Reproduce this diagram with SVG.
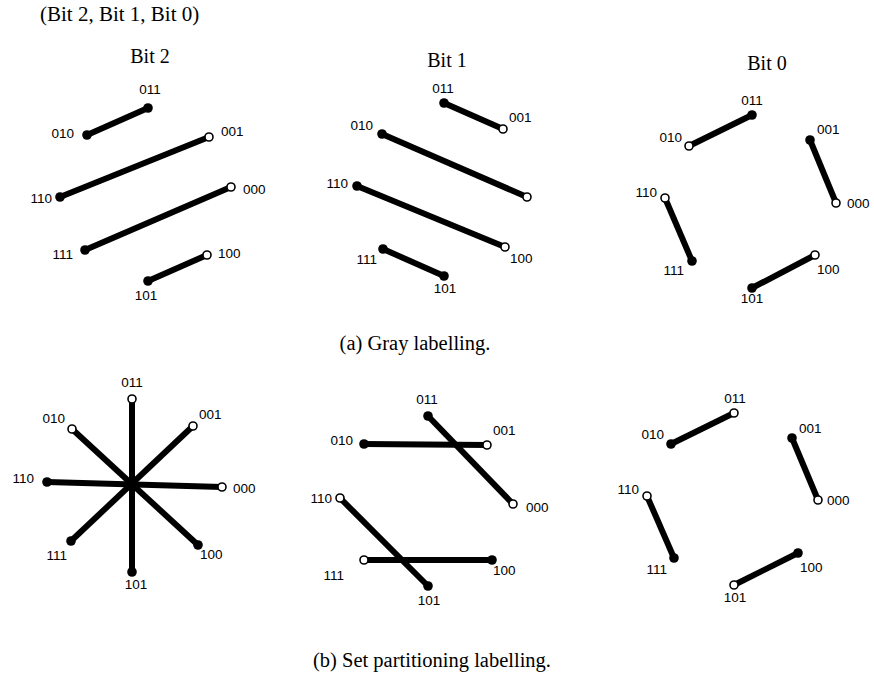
<svg xmlns="http://www.w3.org/2000/svg" width="874" height="676" viewBox="0 0 874 676">
  <style>
    .bg { fill: #ffffff; }
    .serif { font-family: "Liberation Serif", "Times New Roman", serif; fill: #000; }
    .hdr { font-size: 21px; }
    .ttl { font-size: 20px; text-anchor: middle; }
    .cap { font-size: 20.5px; text-anchor: middle; }
    .lbl { font-family: "Liberation Sans", Arial, sans-serif; font-size: 13.5px; fill: #000; }
    .m { text-anchor: middle; }
    .s { text-anchor: start; }
    .en { text-anchor: end; }
    .edge { stroke: #000; stroke-width: 6; stroke-linecap: butt; fill: none; }
    .f { fill: #000; }
    .o { fill: #fff; stroke: #000; stroke-width: 1.6; }
  </style>
  <rect class="bg" x="0" y="0" width="874" height="676"/>

  <text class="serif hdr" x="40" y="21">(Bit 2, Bit 1, Bit 0)</text>
  <text class="serif ttl" x="150" y="63">Bit 2</text>
  <text class="serif ttl" x="447" y="67">Bit 1</text>
  <text class="serif ttl" x="767" y="70">Bit 0</text>
  <text class="serif cap" x="415" y="350">(a) Gray labelling.</text>
  <text class="serif cap" x="432" y="667">(b) Set partitioning labelling.</text>

  <!-- connectors -->
  <g id="connectors">
    <!-- Gray, bit 2 -->
    <line class="edge" x1="87" y1="135" x2="148" y2="108"/>
    <line class="edge" x1="60" y1="197" x2="209" y2="137"/>
    <line class="edge" x1="85" y1="250" x2="231" y2="187"/>
    <line class="edge" x1="148" y1="281" x2="207" y2="255"/>
    <!-- Gray, bit 1 -->
    <line class="edge" x1="444" y1="103" x2="503" y2="129"/>
    <line class="edge" x1="382" y1="134" x2="527" y2="197"/>
    <line class="edge" x1="357" y1="186" x2="505" y2="247"/>
    <line class="edge" x1="383" y1="249" x2="444" y2="276"/>
    <!-- Gray, bit 0 -->
    <line class="edge" x1="689" y1="146" x2="752" y2="115"/>
    <line class="edge" x1="810" y1="140" x2="836" y2="203"/>
    <line class="edge" x1="665" y1="198" x2="692" y2="261"/>
    <line class="edge" x1="752" y1="288" x2="815" y2="255"/>
    <!-- Set partitioning, bit 2 -->
    <line class="edge" x1="132" y1="399" x2="132" y2="572"/>
    <line class="edge" x1="72" y1="429" x2="198" y2="545"/>
    <line class="edge" x1="193" y1="426" x2="71" y2="541"/>
    <line class="edge" x1="47" y1="482" x2="222" y2="487"/>
    <!-- Set partitioning, bit 1 -->
    <line class="edge" x1="428" y1="416" x2="513" y2="504"/>
    <line class="edge" x1="364" y1="444" x2="487" y2="445"/>
    <line class="edge" x1="340" y1="498" x2="428" y2="586"/>
    <line class="edge" x1="364" y1="560" x2="492" y2="560"/>
    <!-- Set partitioning, bit 0 -->
    <line class="edge" x1="671" y1="444" x2="734" y2="413"/>
    <line class="edge" x1="792" y1="438" x2="818" y2="500"/>
    <line class="edge" x1="647" y1="496" x2="674" y2="558"/>
    <line class="edge" x1="734" y1="585" x2="798" y2="553"/>
  </g>

  <!-- (a) Gray labelling, bit 2 -->
  <g id="a2-011"><circle class="f" cx="148" cy="108" r="4.8"/><text class="lbl m" x="150" y="94">011</text></g>
  <g id="a2-010"><circle class="f" cx="87" cy="135" r="4.8"/><text class="lbl en" x="74" y="138">010</text></g>
  <g id="a2-001"><circle class="o" cx="209" cy="137" r="4"/><text class="lbl s" x="221" y="136">001</text></g>
  <g id="a2-110"><circle class="f" cx="60" cy="197" r="4.8"/><text class="lbl en" x="52" y="203">110</text></g>
  <g id="a2-000"><circle class="o" cx="231" cy="187" r="4"/><text class="lbl s" x="243" y="194">000</text></g>
  <g id="a2-111"><circle class="f" cx="85" cy="250" r="4.8"/><text class="lbl en" x="73" y="259">111</text></g>
  <g id="a2-100"><circle class="o" cx="207" cy="255" r="4"/><text class="lbl s" x="218" y="258">100</text></g>
  <g id="a2-101"><circle class="f" cx="148" cy="281" r="4.8"/><text class="lbl m" x="146" y="300">101</text></g>

  <!-- (a) Gray labelling, bit 1 -->
  <g id="a1-011"><circle class="f" cx="444" cy="103" r="4.8"/><text class="lbl m" x="443" y="93">011</text></g>
  <g id="a1-001"><circle class="o" cx="503" cy="129" r="4"/><text class="lbl s" x="509" y="122">001</text></g>
  <g id="a1-010"><circle class="f" cx="382" cy="134" r="4.8"/><text class="lbl en" x="373" y="130">010</text></g>
  <g id="a1-000"><circle class="o" cx="527" cy="197" r="4"/></g>
  <g id="a1-110"><circle class="f" cx="357" cy="186" r="4.8"/><text class="lbl en" x="348" y="188">110</text></g>
  <g id="a1-100"><circle class="o" cx="505" cy="247" r="4"/><text class="lbl s" x="510" y="263">100</text></g>
  <g id="a1-111"><circle class="f" cx="383" cy="249" r="4.8"/><text class="lbl en" x="377" y="264">111</text></g>
  <g id="a1-101"><circle class="f" cx="444" cy="276" r="4.8"/><text class="lbl m" x="445" y="293">101</text></g>

  <!-- (a) Gray labelling, bit 0 -->
  <g id="a0-011"><circle class="f" cx="752" cy="115" r="4.8"/><text class="lbl m" x="752" y="105">011</text></g>
  <g id="a0-010"><circle class="o" cx="689" cy="146" r="4"/><text class="lbl en" x="682" y="142">010</text></g>
  <g id="a0-001"><circle class="f" cx="810" cy="140" r="4.8"/><text class="lbl s" x="817" y="134">001</text></g>
  <g id="a0-000"><circle class="o" cx="836" cy="203" r="4"/><text class="lbl s" x="847" y="208">000</text></g>
  <g id="a0-110"><circle class="o" cx="665" cy="198" r="4"/><text class="lbl en" x="657" y="197">110</text></g>
  <g id="a0-111"><circle class="f" cx="692" cy="261" r="4.8"/><text class="lbl en" x="684" y="275">111</text></g>
  <g id="a0-100"><circle class="o" cx="815" cy="255" r="4"/><text class="lbl s" x="817" y="274">100</text></g>
  <g id="a0-101"><circle class="f" cx="752" cy="288" r="4.8"/><text class="lbl m" x="752" y="303">101</text></g>

  <!-- (b) Set partitioning, bit 2 -->
  <g id="b2-011"><circle class="o" cx="132" cy="399" r="4"/><text class="lbl m" x="132" y="387">011</text></g>
  <g id="b2-001"><circle class="o" cx="193" cy="426" r="4"/><text class="lbl s" x="199" y="419">001</text></g>
  <g id="b2-010"><circle class="o" cx="72" cy="429" r="4"/><text class="lbl en" x="65" y="423">010</text></g>
  <g id="b2-110"><circle class="f" cx="47" cy="482" r="4.8"/><text class="lbl en" x="34" y="483">110</text></g>
  <g id="b2-000"><circle class="o" cx="222" cy="487" r="4"/><text class="lbl s" x="233" y="493">000</text></g>
  <g id="b2-111"><circle class="f" cx="71" cy="541" r="4.8"/><text class="lbl en" x="67" y="560">111</text></g>
  <g id="b2-100"><circle class="f" cx="198" cy="545" r="4.8"/><text class="lbl s" x="200" y="559">100</text></g>
  <g id="b2-101"><circle class="f" cx="132" cy="572" r="4.8"/><text class="lbl m" x="136" y="589">101</text></g>

  <!-- (b) Set partitioning, bit 1 -->
  <g id="b1-011"><circle class="f" cx="428" cy="416" r="4.8"/><text class="lbl m" x="427" y="404">011</text></g>
  <g id="b1-001"><circle class="o" cx="487" cy="445" r="4"/><text class="lbl s" x="493" y="435">001</text></g>
  <g id="b1-010"><circle class="f" cx="364" cy="444" r="4.8"/><text class="lbl en" x="353" y="445">010</text></g>
  <g id="b1-000"><circle class="o" cx="513" cy="504" r="4"/><text class="lbl s" x="526" y="512">000</text></g>
  <g id="b1-110"><circle class="o" cx="340" cy="498" r="4"/><text class="lbl en" x="332" y="503">110</text></g>
  <g id="b1-111"><circle class="o" cx="364" cy="560" r="4"/><text class="lbl en" x="344" y="580">111</text></g>
  <g id="b1-100"><circle class="f" cx="492" cy="560" r="4.8"/><text class="lbl s" x="493" y="575">100</text></g>
  <g id="b1-101"><circle class="f" cx="428" cy="586" r="4.8"/><text class="lbl m" x="429" y="605">101</text></g>

  <!-- (b) Set partitioning, bit 0 -->
  <g id="b0-011"><circle class="o" cx="734" cy="413" r="4"/><text class="lbl m" x="735" y="403">011</text></g>
  <g id="b0-010"><circle class="f" cx="671" cy="444" r="4.8"/><text class="lbl en" x="664" y="439">010</text></g>
  <g id="b0-001"><circle class="f" cx="792" cy="438" r="4.8"/><text class="lbl s" x="799" y="433">001</text></g>
  <g id="b0-000"><circle class="o" cx="818" cy="500" r="4"/><text class="lbl s" x="827" y="505">000</text></g>
  <g id="b0-110"><circle class="o" cx="647" cy="496" r="4"/><text class="lbl en" x="639" y="494">110</text></g>
  <g id="b0-111"><circle class="f" cx="674" cy="558" r="4.8"/><text class="lbl en" x="667" y="574">111</text></g>
  <g id="b0-100"><circle class="f" cx="798" cy="553" r="4.8"/><text class="lbl s" x="800" y="572">100</text></g>
  <g id="b0-101"><circle class="o" cx="734" cy="585" r="4"/><text class="lbl m" x="735" y="602">101</text></g>
</svg>
